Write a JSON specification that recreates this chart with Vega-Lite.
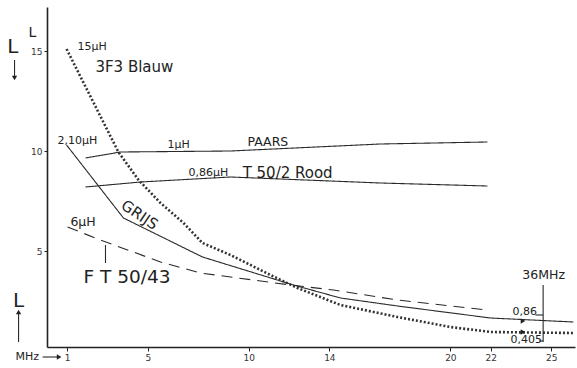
{
  "$schema": "https://vega.github.io/schema/vega-lite/v6.json",
  "autosize": "none",
  "width": 528,
  "height": 340,
  "padding": {"left": 47, "top": 7, "right": 2, "bottom": 21},
  "background": "white",
  "config": {"view": {"stroke": null}, "font": "DejaVu Sans"},
  "datasets": {
    "curves": [
      {"series": "3F3 Blauw", "f": 0.97, "L": 15.1},
      {"series": "3F3 Blauw", "f": 3.54, "L": 9.95},
      {"series": "3F3 Blauw", "f": 4.54, "L": 8.55},
      {"series": "3F3 Blauw", "f": 5.63, "L": 7.4},
      {"series": "3F3 Blauw", "f": 6.77, "L": 6.4},
      {"series": "3F3 Blauw", "f": 7.71, "L": 5.4},
      {"series": "3F3 Blauw", "f": 9.1, "L": 4.8},
      {"series": "3F3 Blauw", "f": 11.08, "L": 3.8},
      {"series": "3F3 Blauw", "f": 12.42, "L": 3.15},
      {"series": "3F3 Blauw", "f": 14.55, "L": 2.3},
      {"series": "3F3 Blauw", "f": 17.38, "L": 1.7},
      {"series": "3F3 Blauw", "f": 20.0, "L": 1.2},
      {"series": "3F3 Blauw", "f": 21.99, "L": 0.95},
      {"series": "3F3 Blauw", "f": 26.1, "L": 0.9},
      {"series": "Grijs", "f": 0.97, "L": 10.3},
      {"series": "Grijs", "f": 3.79, "L": 6.65},
      {"series": "Grijs", "f": 7.71, "L": 4.7},
      {"series": "Grijs", "f": 12.22, "L": 3.3},
      {"series": "Grijs", "f": 14.55, "L": 2.65},
      {"series": "Grijs", "f": 17.38, "L": 2.25},
      {"series": "Grijs", "f": 21.99, "L": 1.65},
      {"series": "Grijs", "f": 26.1, "L": 1.45},
      {"series": "FT 50/43", "f": 1.02, "L": 6.2},
      {"series": "FT 50/43", "f": 2.65, "L": 5.55},
      {"series": "FT 50/43", "f": 5.63, "L": 4.45},
      {"series": "FT 50/43", "f": 7.61, "L": 3.9},
      {"series": "FT 50/43", "f": 12.07, "L": 3.3},
      {"series": "FT 50/43", "f": 14.2, "L": 3.05},
      {"series": "FT 50/43", "f": 17.38, "L": 2.55},
      {"series": "FT 50/43", "f": 21.84, "L": 2.05},
      {"series": "Paars", "f": 1.91, "L": 9.65},
      {"series": "Paars", "f": 3.64, "L": 9.95},
      {"series": "Paars", "f": 9.1, "L": 10.0},
      {"series": "Paars", "f": 16.53, "L": 10.35},
      {"series": "Paars", "f": 21.84, "L": 10.45},
      {"series": "T 50/2 Rood", "f": 1.91, "L": 8.2},
      {"series": "T 50/2 Rood", "f": 4.64, "L": 8.45},
      {"series": "T 50/2 Rood", "f": 9.1, "L": 8.7},
      {"series": "T 50/2 Rood", "f": 16.53, "L": 8.4},
      {"series": "T 50/2 Rood", "f": 21.84, "L": 8.25}
    ],
    "labels": [
      {"text": "15µH", "f": 1.51, "L": 15.2, "kind": "s"},
      {"text": "3F3 Blauw", "f": 2.4, "L": 14.2, "kind": "l"},
      {"text": "2,10µH", "f": 0.52, "L": 10.5, "kind": "s"},
      {"text": "1µH", "f": 5.98, "L": 10.3, "kind": "s"},
      {"text": "PAARS", "f": 9.94, "L": 10.45, "kind": "m"},
      {"text": "0,86µH", "f": 7.02, "L": 8.9, "kind": "s"},
      {"text": "T 50/2 Rood", "f": 9.7, "L": 8.9, "kind": "l"},
      {"text": "6µH", "f": 1.16, "L": 6.45, "kind": "m"},
      {"text": "F T 50/43", "f": 1.81, "L": 3.7, "kind": "xl"},
      {"text": "36MHz", "f": 23.57, "L": 3.8, "kind": "m"},
      {"text": "0,86", "f": 23.08, "L": 1.95, "kind": "s"},
      {"text": "0,405", "f": 22.98, "L": 0.55, "kind": "s"},
      {"text": "MHz", "f": -1.56, "L": -0.3, "kind": "s"}
    ],
    "bigL": [
      {"text": "L", "f": -0.72, "L": 15.9, "kind": "Lm"},
      {"text": "L", "f": -1.69, "L": 15.2, "kind": "Lxl"},
      {"text": "L", "f": -1.41, "L": 2.5, "kind": "Lxl"}
    ],
    "rules": [
      {"f": 2.9, "L": 5.3, "f2": 2.9, "L2": 4.4},
      {"f": 24.6, "L": 3.3, "f2": 24.6, "L2": 0.45},
      {"f": 24.22, "L": 1.8, "f2": 24.6, "L2": 1.8},
      {"f": 24.4, "L": 0.5, "f2": 24.6, "L2": 0.5},
      {"f": -1.61, "L": 14.55, "f2": -1.61, "L2": 13.75},
      {"f": -1.41, "L": 0.45, "f2": -1.41, "L2": 1.85},
      {"f": -0.22, "L": -0.3, "f2": 0.5, "L2": -0.3}
    ],
    "arrows": [
      {"f": -1.61, "L": 13.65, "dir": "down"},
      {"f": -1.41, "L": 1.95, "dir": "up"},
      {"f": 0.6, "L": -0.3, "dir": "right"},
      {"f": 23.6, "L": 1.5, "dir": "right"},
      {"f": 23.6, "L": 0.95, "dir": "right"}
    ]
  },
  "layer": [
    {
      "data": {"name": "curves"},
      "transform": [{"filter": "datum.series !== '3F3 Blauw'"}],
      "mark": {"type": "line", "color": "#2a2a2a", "strokeWidth": 1.1},
      "encoding": {
        "x": {"field": "f", "type": "quantitative", "scale": {"domain": [0, 26.18], "nice": false, "zero": false},
              "axis": {"values": [1, 5, 10, 14, 20, 22, 25], "title": null, "grid": false, "domainColor": "#222", "domainWidth": 1.6, "tickColor": "#222", "tickSize": 4, "labelFontSize": 9, "labelColor": "#333", "labelPadding": 2}},
        "y": {"field": "L", "type": "quantitative", "scale": {"domain": [0.2, 17.2], "nice": false, "zero": false},
              "axis": {"values": [5, 10, 15], "title": null, "grid": false, "domainColor": "#222", "domainWidth": 1.6, "tickColor": "#222", "tickSize": 3, "labelFontSize": 9, "labelColor": "#333", "labelPadding": 2}},
        "detail": {"field": "series"},
        "strokeDash": {"field": "series", "type": "nominal", "legend": null,
          "scale": {"domain": ["Grijs", "Paars", "T 50/2 Rood", "FT 50/43"], "range": [[1, 0], [1, 0], [1, 0], [11, 7]]}}
      }
    },
    {
      "data": {"name": "curves"},
      "transform": [{"filter": "datum.series === '3F3 Blauw'"}],
      "mark": {"type": "line", "color": "#333", "strokeWidth": 2.6, "strokeDash": [2, 2]},
      "encoding": {
        "x": {"field": "f", "type": "quantitative"},
        "y": {"field": "L", "type": "quantitative"}
      }
    },
    {
      "data": {"name": "rules"},
      "mark": {"type": "rule", "color": "#2a2a2a", "strokeWidth": 1.1, "clip": false},
      "encoding": {
        "x": {"field": "f", "type": "quantitative"},
        "y": {"field": "L", "type": "quantitative"},
        "x2": {"field": "f2"},
        "y2": {"field": "L2"}
      }
    },
    {
      "data": {"name": "arrows"},
      "mark": {"type": "point", "filled": true, "color": "#222", "opacity": 1, "size": 28},
      "encoding": {
        "x": {"field": "f", "type": "quantitative"},
        "y": {"field": "L", "type": "quantitative"},
        "shape": {"field": "dir", "type": "nominal", "legend": null,
          "scale": {"domain": ["down", "up", "right"], "range": ["triangle-down", "triangle-up", "triangle-right"]}}
      }
    },
    {
      "data": {"name": "labels"},
      "mark": {"type": "text", "align": "left", "baseline": "middle", "color": "#222"},
      "encoding": {
        "x": {"field": "f", "type": "quantitative"},
        "y": {"field": "L", "type": "quantitative"},
        "text": {"field": "text"},
        "size": {"field": "kind", "type": "nominal", "legend": null,
          "scale": {"type": "ordinal", "domain": ["s", "m", "l", "xl", "Lm", "Lxl"], "range": [11, 12.5, 15, 18.5, 14, 20]}}
      }
    },
    {
      "data": {"name": "bigL"},
      "mark": {"type": "text", "align": "center", "baseline": "middle", "color": "#222"},
      "encoding": {
        "x": {"field": "f", "type": "quantitative"},
        "y": {"field": "L", "type": "quantitative"},
        "text": {"field": "text"},
        "size": {"field": "kind", "type": "nominal", "legend": null,
          "scale": {"type": "ordinal", "domain": ["s", "m", "l", "xl", "Lm", "Lxl"], "range": [11, 12.5, 15, 18.5, 14, 20]}}
      }
    },
    {
      "data": {"values": [{"text": "GRIJS", "f": 4.59, "L": 6.8}]},
      "mark": {"type": "text", "align": "center", "baseline": "middle", "color": "#222", "angle": 34, "fontSize": 15},
      "encoding": {
        "x": {"field": "f", "type": "quantitative"},
        "y": {"field": "L", "type": "quantitative"},
        "text": {"field": "text"}
      }
    }
  ]
}
